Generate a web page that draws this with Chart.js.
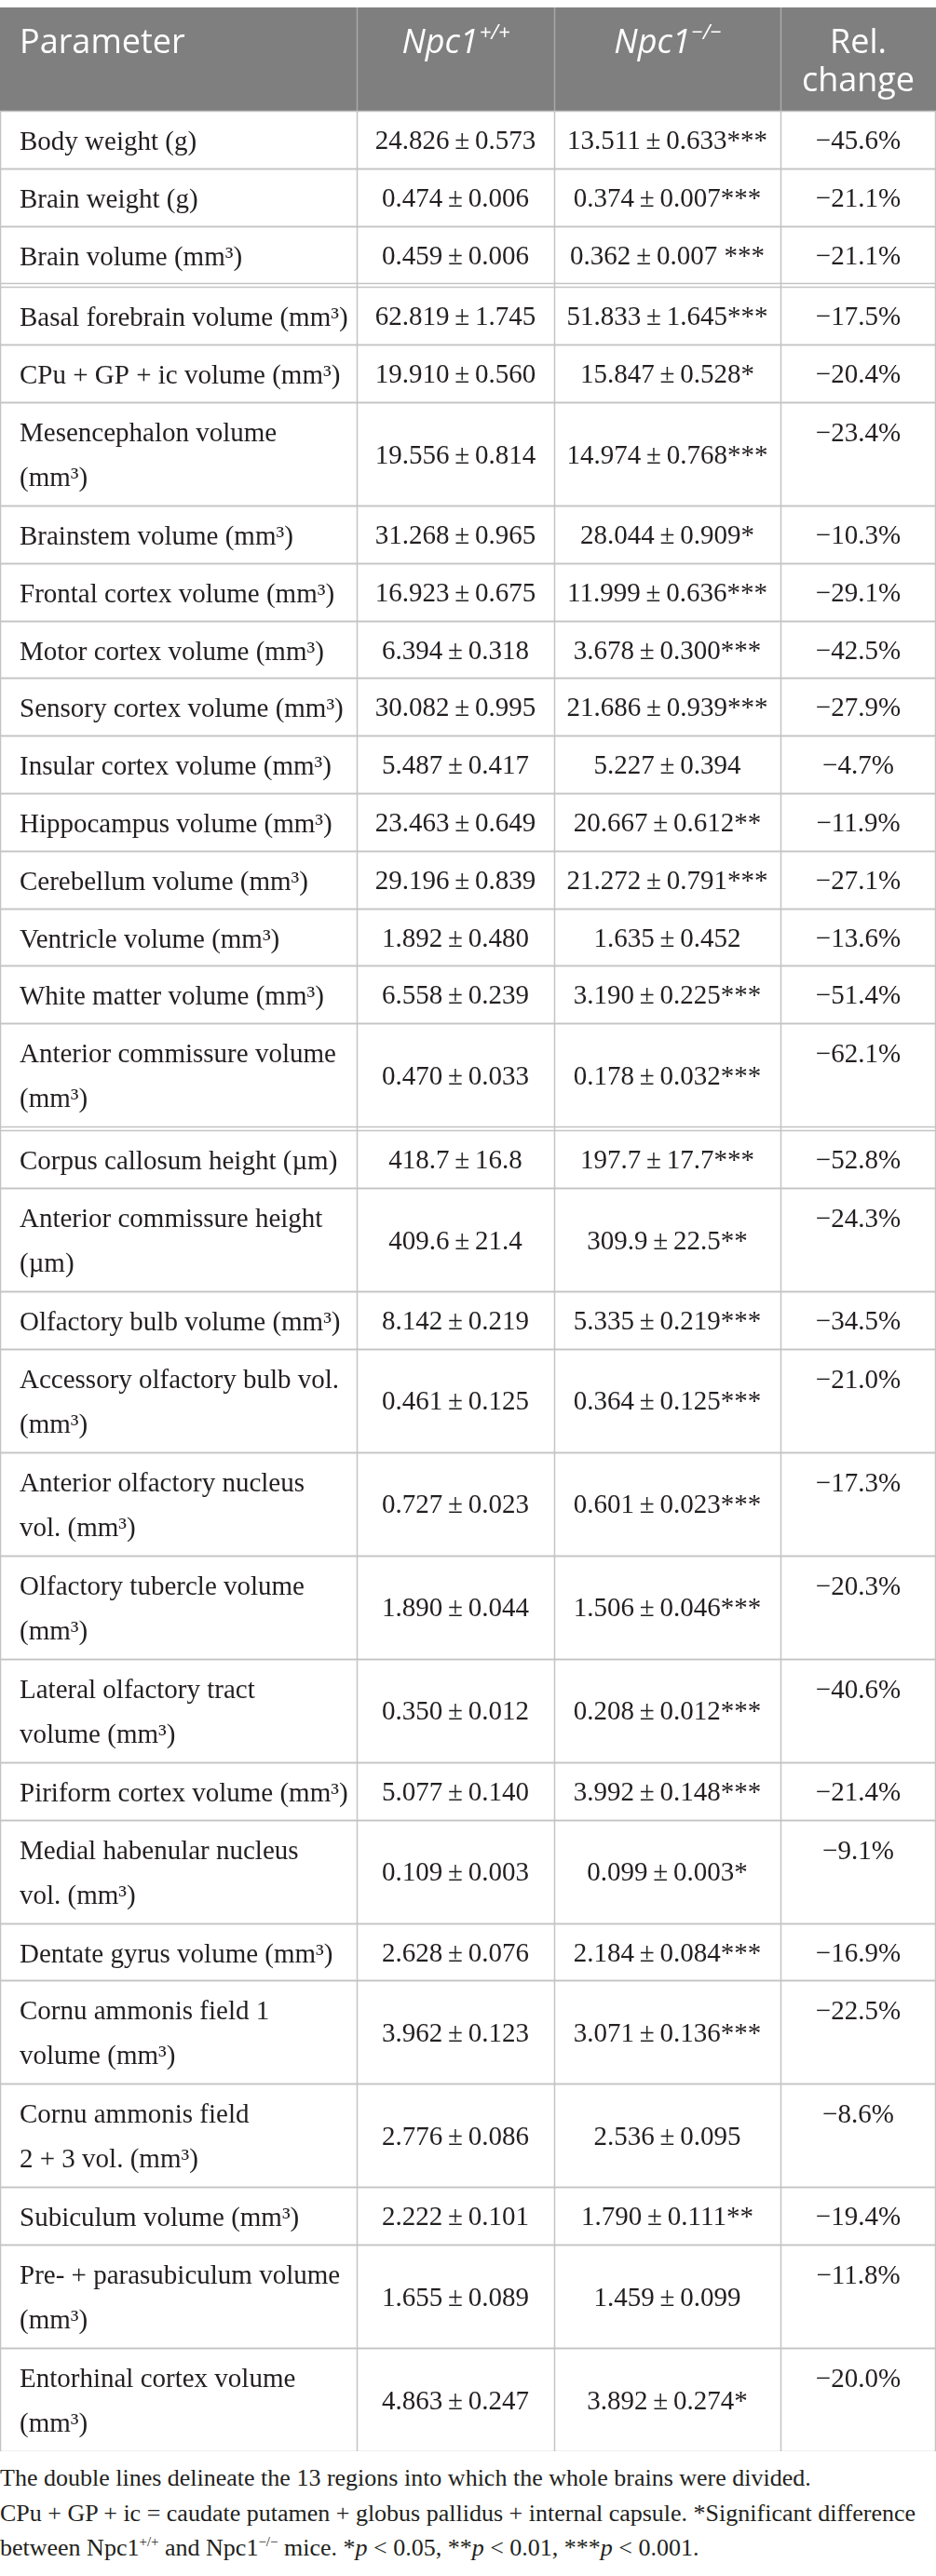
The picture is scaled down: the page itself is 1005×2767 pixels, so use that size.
<!DOCTYPE html>
<html>
<head>
<meta charset="utf-8">
<script src="https://cdn.jsdelivr.net/npm/chart.js@4"></script>
<style>
  html, body { margin: 0; padding: 0; background: #ffffff; }
  body { width: 1005px; height: 2767px; overflow: hidden; }
  .table-box { position: relative; width: 1005px; margin-top: 8px; }
  .note {
    font-family: "Liberation Serif", serif;
    font-size: 26px;
    line-height: 37.5px;
    color: #231f20;
    margin: 10px 0 0 0;
    white-space: nowrap;
  }
  .note sup { font-size: 15px; vertical-align: 10px; line-height: 0; }
</style>
</head>
<body>
<div class="table-box" id="box"><canvas id="table-chart"></canvas></div>
<div class="note">
  The double lines delineate the 13 regions into which the whole brains were divided.<br>
  CPu + GP + ic = caudate putamen + globus pallidus + internal capsule. *Significant difference<br>
  between Npc1<sup>+/+</sup> and Npc1<sup>−/−</sup> mice. *<i>p</i> &lt; 0.05, **<i>p</i> &lt; 0.01, ***<i>p</i> &lt; 0.001.
</div>
<script>
// Dados da tabela (linhas)
const parameters = [
  'Body weight (g)',
  'Brain weight (g)',
  'Brain volume (mm³)',
  'Basal forebrain volume (mm³)',
  'CPu + GP + ic volume (mm³)',
  'Mesencephalon volume\n(mm³)',
  'Brainstem volume (mm³)',
  'Frontal cortex volume (mm³)',
  'Motor cortex volume (mm³)',
  'Sensory cortex volume (mm³)',
  'Insular cortex volume (mm³)',
  'Hippocampus volume (mm³)',
  'Cerebellum volume (mm³)',
  'Ventricle volume (mm³)',
  'White matter volume (mm³)',
  'Anterior commissure volume\n(mm³)',
  'Corpus callosum height (µm)',
  'Anterior commissure height\n(µm)',
  'Olfactory bulb volume (mm³)',
  'Accessory olfactory bulb vol.\n(mm³)',
  'Anterior olfactory nucleus\nvol. (mm³)',
  'Olfactory tubercle volume\n(mm³)',
  'Lateral olfactory tract\nvolume (mm³)',
  'Piriform cortex volume (mm³)',
  'Medial habenular nucleus\nvol. (mm³)',
  'Dentate gyrus volume (mm³)',
  'Cornu ammonis field 1\nvolume (mm³)',
  'Cornu ammonis field\n2 + 3 vol. (mm³)',
  'Subiculum volume (mm³)',
  'Pre- + parasubiculum volume\n(mm³)',
  'Entorhinal cortex volume\n(mm³)'
];

const wtMean = [24.826, 0.474, 0.459, 62.819, 19.910, 19.556, 31.268, 16.923, 6.394, 30.082,
  5.487, 23.463, 29.196, 1.892, 6.558, 0.470, 418.7, 409.6, 8.142, 0.461,
  0.727, 1.890, 0.350, 5.077, 0.109, 2.628, 3.962, 2.776, 2.222, 1.655, 4.863];
const wtSem = [0.573, 0.006, 0.006, 1.745, 0.560, 0.814, 0.965, 0.675, 0.318, 0.995,
  0.417, 0.649, 0.839, 0.480, 0.239, 0.033, 16.8, 21.4, 0.219, 0.125,
  0.023, 0.044, 0.012, 0.140, 0.003, 0.076, 0.123, 0.086, 0.101, 0.089, 0.247];
const koMean = [13.511, 0.374, 0.362, 51.833, 15.847, 14.974, 28.044, 11.999, 3.678, 21.686,
  5.227, 20.667, 21.272, 1.635, 3.190, 0.178, 197.7, 309.9, 5.335, 0.364,
  0.601, 1.506, 0.208, 3.992, 0.099, 2.184, 3.071, 2.536, 1.790, 1.459, 3.892];
const koSem = [0.633, 0.007, 0.007, 1.645, 0.528, 0.768, 0.909, 0.636, 0.300, 0.939,
  0.394, 0.612, 0.791, 0.452, 0.225, 0.032, 17.7, 22.5, 0.219, 0.125,
  0.023, 0.046, 0.012, 0.148, 0.003, 0.084, 0.136, 0.095, 0.111, 0.099, 0.274];
const koSig = ['***', '***', ' ***', '***', '*', '***', '*', '***', '***', '***',
  '', '**', '***', '', '***', '***', '***', '**', '***', '***',
  '***', '***', '***', '***', '*', '***', '***', '', '**', '', '*'];
const relChange = [-45.6, -21.1, -21.1, -17.5, -20.4, -23.4, -10.3, -29.1, -42.5, -27.9,
  -4.7, -11.9, -27.1, -13.6, -51.4, -62.1, -52.8, -24.3, -34.5, -21.0,
  -17.3, -20.3, -40.6, -21.4, -9.1, -16.9, -22.5, -8.6, -19.4, -11.8, -20.0];

// linhas depois das quais vem a linha dupla
const regionBreaks = [2, 15];

// Layout
const colEdges = [0, 383, 595, 838, 1005];
const HEADER_H = 111;
const ROW_H = 61.8;
const LINE_STEP = 49.2;
const GAP = 4;
const serif = '"Liberation Serif", "Times New Roman", serif';
const sans = '"Open Sans", "Noto Sans", sans-serif';
const textColor = '#231f20';
const gridColor = '#c4c4c4';

const fmt = (v, d) => v.toFixed(d);
const decimalsFor = label => label.includes('µm') ? 1 : 3;

// posições verticais das linhas (em unidades da escala y)
const rowTops = [];
const rowBottoms = [];
let cursor = HEADER_H;
parameters.forEach((p, i) => {
  const lines = p.split('\n').length;
  rowTops.push(cursor);
  cursor += ROW_H + (lines - 1) * LINE_STEP;
  rowBottoms.push(cursor);
  if (regionBreaks.includes(i)) cursor += GAP;
});
const tableBottom = cursor;

const box = document.getElementById('box');
box.style.height = tableBottom + 'px';

const colCenter = c => (colEdges[c] + colEdges[c + 1]) / 2;
const rowCenter = i => (rowTops[i] + rowBottoms[i]) / 2;

const cellTexts = [
  parameters,
  parameters.map((p, i) => fmt(wtMean[i], decimalsFor(p)) + '\u2009±\u2009' + fmt(wtSem[i], decimalsFor(p))),
  parameters.map((p, i) => fmt(koMean[i], decimalsFor(p)) + '\u2009±\u2009' + fmt(koSem[i], decimalsFor(p)) + koSig[i]),
  relChange.map(v => '−' + fmt(Math.abs(v), 1) + '%')
];

const datasets = cellTexts.map((texts, c) => ({
  label: 'col' + c,
  data: texts.map((t, i) => ({ x: colCenter(c), y: rowCenter(i) })),
  pointRadius: 0,
  pointHoverRadius: 0
}));

function drawHeaderCell(ctx, x, y, base, sup) {
  ctx.font = 'italic 36px ' + sans;
  const w1 = ctx.measureText(base).width;
  ctx.font = 'italic 22px ' + sans;
  const w2 = ctx.measureText(sup).width;
  const start = x - (w1 + w2) / 2;
  ctx.textAlign = 'left';
  ctx.font = 'italic 36px ' + sans;
  ctx.fillText(base, start, y);
  ctx.font = 'italic 22px ' + sans;
  ctx.fillText(sup, start + w1 + 1, y - 15);
}

const tablePlugin = {
  id: 'tableCells',
  beforeDatasetsDraw(chart) {
    const { ctx, scales: { x, y } } = chart;
    const px = v => x.getPixelForValue(v);
    const py = v => y.getPixelForValue(v);
    ctx.save();
    // cabeçalho
    ctx.fillStyle = '#7f7f7f';
    ctx.fillRect(px(0), py(0), px(1005) - px(0), py(HEADER_H) - py(0));
    ctx.strokeStyle = '#a9a9a9';
    ctx.lineWidth = 1.5;
    colEdges.slice(1, -1).forEach(e => {
      ctx.beginPath();
      ctx.moveTo(Math.round(px(e)) + 0.5, py(0));
      ctx.lineTo(Math.round(px(e)) + 0.5, py(HEADER_H));
      ctx.stroke();
    });
    // grade do corpo
    ctx.strokeStyle = gridColor;
    ctx.lineWidth = 1.5;
    const hline = v => {
      const yy = Math.round(py(v)) + 0.5;
      ctx.beginPath();
      ctx.moveTo(px(0), yy);
      ctx.lineTo(px(1005), yy);
      ctx.stroke();
    };
    rowTops.forEach(t => hline(t));
    rowBottoms.forEach(b => hline(b));
    colEdges.forEach(e => {
      const xx = Math.min(Math.max(Math.round(px(e)) + 0.5, 0.5), px(1005) - 0.5);
      ctx.beginPath();
      ctx.moveTo(xx, py(HEADER_H));
      ctx.lineTo(xx, py(tableBottom));
      ctx.stroke();
    });
    ctx.restore();
  },
  afterDatasetsDraw(chart) {
    const { ctx, scales: { x, y } } = chart;
    const px = v => x.getPixelForValue(v);
    const py = v => y.getPixelForValue(v);
    ctx.save();
    // textos do cabeçalho
    ctx.fillStyle = '#ffffff';
    ctx.textBaseline = 'alphabetic';
    ctx.font = '36px ' + sans;
    ctx.textAlign = 'left';
    ctx.fillText('Parameter', px(21), py(49));
    drawHeaderCell(ctx, px(colCenter(1)), py(49), 'Npc1', '+/+');
    drawHeaderCell(ctx, px(colCenter(2)), py(49), 'Npc1', '−/−');
    ctx.font = '36px ' + sans;
    ctx.textAlign = 'center';
    ctx.fillText('Rel.', px(colCenter(3)), py(49));
    ctx.fillText('change', px(colCenter(3)), py(90));

    // células
    ctx.fillStyle = textColor;
    ctx.font = '29px ' + serif;
    chart.data.datasets.forEach((ds, c) => {
      const meta = chart.getDatasetMeta(c);
      meta.data.forEach((pt, i) => {
        const text = cellTexts[c][i];
        const lines = parameters[i].split('\n').length;
        if (c === 0) {
          ctx.textAlign = 'left';
          text.split('\n').forEach((ln, k) => {
            ctx.fillText(ln, px(21), py(rowTops[i] + 42 + k * 48));
          });
        } else if (c === 3 && lines > 1) {
          ctx.textAlign = 'center';
          ctx.fillText(text, pt.x, py(rowTops[i] + 42));
        } else {
          ctx.textAlign = 'center';
          ctx.fillText(text, pt.x, pt.y + 10);
        }
      });
    });
    ctx.restore();
  }
};

const ctx = document.getElementById('table-chart').getContext('2d');
const chart = new Chart(ctx, {
  type: 'scatter',
  data: { datasets },
  options: {
    animation: false,
    responsive: true,
    maintainAspectRatio: false,
    events: [],
    layout: { padding: 0 },
    plugins: { legend: { display: false }, tooltip: { enabled: false } },
    scales: {
      x: { type: 'linear', display: false, min: 0, max: 1005 },
      y: { type: 'linear', display: false, min: 0, max: tableBottom, reverse: true }
    }
  },
  plugins: [tablePlugin]
});
</script>
</body>
</html>
